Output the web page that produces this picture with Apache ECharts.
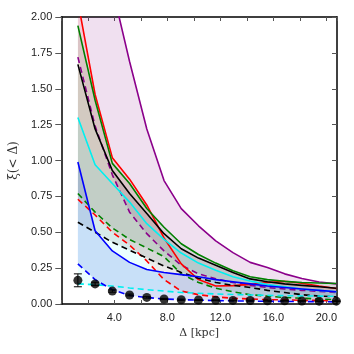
<!DOCTYPE html>
<html>
<head>
<meta charset="utf-8">
<script src="https://cdn.jsdelivr.net/npm/echarts@6/dist/echarts.min.js"></script>
<style>
  html, body { margin: 0; padding: 0; background: #fff; }
  #main { width: 354px; height: 354px; }
</style>
</head>
<body>
<div id="main"></div>
<script>
// separations (kpc) where everything is sampled
var delta = [1.25, 2.55, 3.85, 5.15, 6.45, 7.75, 9.05, 10.35, 11.65, 12.95, 14.25, 15.55, 16.85, 18.15, 19.45, 20.75];

// observed points + errors
var xiObs = [0.165, 0.14, 0.09, 0.063, 0.046, 0.035, 0.03, 0.028, 0.026, 0.025, 0.024, 0.023, 0.022, 0.021, 0.02, 0.02];
var xiErr = [0.045, 0.012, 0.008, 0.006, 0.005, 0.004, 0.004, 0.003, 0.003, 0.003, 0.003, 0.003, 0.002, 0.002, 0.002, 0.002];

// model bands: upper (solid) / lower (dashed)
var purpleHi = [3.4, 2.7, 2.2, 1.69, 1.22, 0.86, 0.665, 0.545, 0.44, 0.358, 0.29, 0.255, 0.21, 0.178, 0.153, 0.14];
var purpleLo = [1.72, 1.24, 0.9, 0.64, 0.49, 0.37, 0.27, 0.21, 0.175, 0.15, 0.13, 0.115, 0.105, 0.095, 0.088, 0.08];
var redHi = [2.11, 1.46, 1.02, 0.87, 0.69, 0.46, 0.28, 0.17, 0.125, 0.128, 0.137, 0.15, 0.158, 0.145, 0.125, 0.108];
var redLo = [0.73, 0.62, 0.50, 0.41, 0.30, 0.17, 0.09, 0.065, 0.05, 0.04, 0.035, 0.03, 0.03, 0.025, 0.025, 0.02];
var greenHi = [1.94, 1.42, 0.98, 0.84, 0.665, 0.535, 0.42, 0.345, 0.285, 0.232, 0.19, 0.17, 0.158, 0.15, 0.146, 0.143];
var greenLo = [0.77, 0.64, 0.53, 0.45, 0.39, 0.33, 0.21, 0.15, 0.11, 0.085, 0.065, 0.055, 0.045, 0.04, 0.035, 0.03];
var blackHi = [1.67, 1.22, 0.93, 0.77, 0.63, 0.49, 0.385, 0.32, 0.27, 0.22, 0.175, 0.155, 0.14, 0.13, 0.12, 0.11];
var blackLo = [0.57, 0.50, 0.43, 0.375, 0.32, 0.265, 0.22, 0.18, 0.15, 0.13, 0.115, 0.095, 0.08, 0.065, 0.055, 0.05];
var cyanHi = [1.30, 0.97, 0.84, 0.71, 0.56, 0.45, 0.355, 0.285, 0.235, 0.19, 0.16, 0.135, 0.12, 0.105, 0.095, 0.085];
var cyanLo = [0.14, 0.135, 0.125, 0.112, 0.10, 0.09, 0.08, 0.075, 0.07, 0.066, 0.063, 0.06, 0.058, 0.056, 0.055, 0.054];
var blueHi = [0.99, 0.51, 0.37, 0.29, 0.24, 0.22, 0.205, 0.19, 0.17, 0.155, 0.14, 0.125, 0.115, 0.105, 0.095, 0.085];
var blueLo = [0.28, 0.17, 0.10, 0.06, 0.045, 0.035, 0.03, 0.027, 0.024, 0.022, 0.02, 0.019, 0.018, 0.017, 0.016, 0.015];

var xLabels = [4, 8, 12, 16, 20];

var bands = [
  { hi: purpleHi, lo: purpleLo, line: '#8b008b', fill: 'rgba(128,0,128,0.12)' },
  { hi: redHi, lo: redLo, line: '#ff0000', fill: 'rgba(255,0,0,0.09)' },
  { hi: greenHi, lo: greenLo, line: '#008000', fill: 'rgba(0,110,0,0.09)' },
  { hi: blackHi, lo: blackLo, line: '#000000', fill: 'rgba(0,0,0,0.09)' },
  { hi: cyanHi, lo: cyanLo, line: '#00f0f0', fill: 'rgba(0,255,255,0.08)' },
  { hi: blueHi, lo: blueLo, line: '#0000ff', fill: 'rgba(60,100,220,0.20)' }
];

var series = [];
// filled bands as one clipped polygon per band
bands.forEach(function (b) {
  series.push({
    type: 'custom', silent: true, z: 1,
    data: delta.map(function (x, i) { return [x, b.lo[i], b.hi[i]]; }),
    renderItem: function (params, api) {
      if (params.dataIndex !== 0) return;
      var top = [], bot = [];
      for (var i = 0; i < delta.length; i++) {
        top.push(api.coord([delta[i], b.hi[i]]));
        bot.unshift(api.coord([delta[i], b.lo[i]]));
      }
      var cs = params.coordSys;
      return {
        type: 'polygon',
        shape: { points: top.concat(bot) },
        style: { fill: b.fill },
        clipPath: { type: 'rect', shape: { x: cs.x, y: cs.y, width: cs.width, height: cs.height } }
      };
    }
  });
});
// outlines
bands.forEach(function (b) {
  series.push({
    type: 'line', data: delta.map(function (x, i) { return [x, b.hi[i]]; }), symbol: 'none',
    lineStyle: { color: b.line, width: 1.6 }, z: 3
  });
  series.push({
    type: 'line', data: delta.map(function (x, i) { return [x, b.lo[i]]; }), symbol: 'none',
    lineStyle: { color: b.line, width: 1.6, type: [6, 4] }, z: 3
  });
});
// error bars
series.push({
  type: 'custom', z: 5,
  data: delta.map(function (x, i) { return [x, xiObs[i] - xiErr[i], xiObs[i] + xiErr[i]]; }),
  renderItem: function (params, api) {
    var lo = api.coord([api.value(0), api.value(1)]);
    var hi = api.coord([api.value(0), api.value(2)]);
    var w = 4;
    return {
      type: 'group',
      children: [
        { type: 'line', shape: { x1: lo[0], y1: lo[1], x2: hi[0], y2: hi[1] }, style: { stroke: '#000', lineWidth: 1 } },
        { type: 'line', shape: { x1: lo[0] - w, y1: lo[1], x2: lo[0] + w, y2: lo[1] }, style: { stroke: '#000', lineWidth: 1 } },
        { type: 'line', shape: { x1: hi[0] - w, y1: hi[1], x2: hi[0] + w, y2: hi[1] }, style: { stroke: '#000', lineWidth: 1 } }
      ]
    };
  }
});
series.push({
  type: 'scatter', data: delta.map(function (x, i) { return [x, xiObs[i]]; }),
  symbol: 'circle', symbolSize: 9, itemStyle: { color: '#000' }, z: 6
});

var chart = echarts.init(document.getElementById('main'));
chart.setOption({
  animation: false,
  grid: { left: 57, right: 17, top: 17, bottom: 50 },
  xAxis: [{
    type: 'value', min: 0, max: 20.8, interval: 2,
    name: 'Δ [kpc]', nameLocation: 'middle', nameGap: 15,
    nameTextStyle: { fontFamily: 'DejaVu Serif', fontSize: 11, color: '#333' },
    axisLine: { show: true, onZero: false, lineStyle: { color: '#000', width: 1.5 } },
    axisTick: { inside: true, length: 4, lineStyle: { color: '#555' } },
    axisLabel: {
      color: '#222', fontSize: 11, fontFamily: 'Liberation Sans', margin: 8,
      formatter: function (v) { return xLabels.indexOf(v) >= 0 ? v.toFixed(1) : ''; }
    },
    splitLine: { show: false }
  }, {
    type: 'value', position: 'top', min: 0, max: 20.8, interval: 2,
    axisLine: { show: true, onZero: false, lineStyle: { color: '#000', width: 1.5 } },
    axisTick: { inside: true, length: 4, lineStyle: { color: '#555' } },
    axisLabel: { show: false }, splitLine: { show: false }
  }],
  yAxis: [{
    type: 'value', min: 0, max: 2, interval: 0.25,
    name: 'ξ(< Δ)', nameLocation: 'middle', nameGap: 28, nameRotate: 90,
    nameTextStyle: { fontFamily: 'DejaVu Serif', fontSize: 12, color: '#333' },
    axisLine: { show: true, onZero: false, lineStyle: { color: '#000', width: 1.5 } },
    axisTick: { inside: false, length: 6, lineStyle: { color: '#555' } },
    axisLabel: { color: '#222', fontSize: 11, fontFamily: 'Liberation Sans', margin: 9,
      formatter: function (v) { return v.toFixed(2); } },
    splitLine: { show: false }
  }, {
    type: 'value', position: 'right', min: 0, max: 2, interval: 0.25,
    axisLine: { show: true, onZero: false, lineStyle: { color: '#000', width: 1.5 } },
    axisTick: { inside: true, length: 5, lineStyle: { color: '#555' } },
    axisLabel: { show: false }, splitLine: { show: false }
  }],
  series: series
});
</script>
</body>
</html>
